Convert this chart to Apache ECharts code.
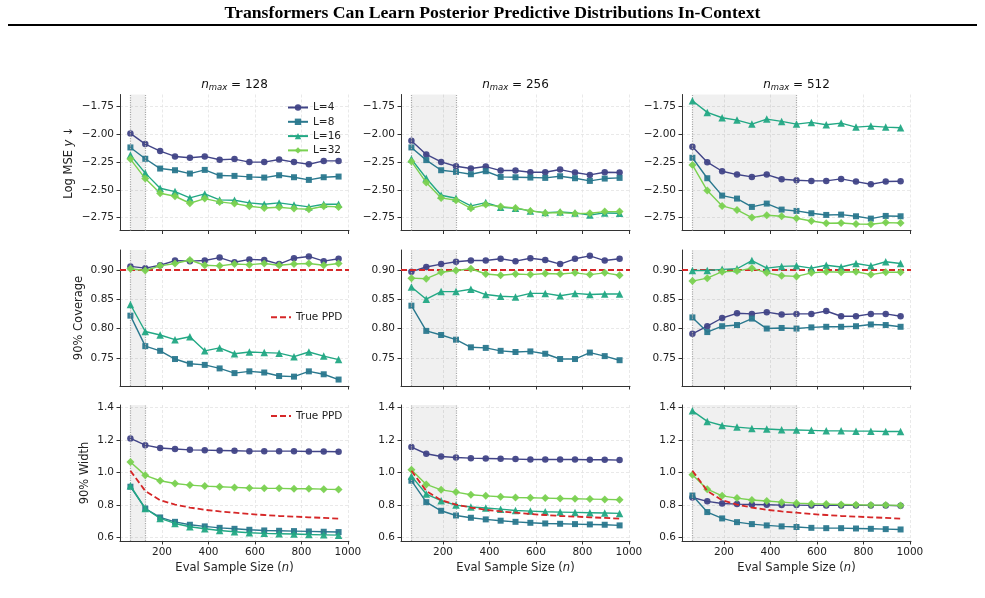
<!DOCTYPE html>
<html>
<head>
<meta charset="utf-8">
<script src="https://cdn.jsdelivr.net/npm/echarts@6/dist/echarts.min.js"></script>
<style>
  html, body { margin: 0; padding: 0; background: #fff; }
  #chart { width: 985px; height: 598px; }
</style>
</head>
<body>
<div id="chart"></div>
<script>
// eval sample sizes (x) and context lengths of each column
const evalSizes = [64, 128, 192, 256, 320, 384, 448, 512, 576, 640, 704, 768, 832, 896, 960];
const nMaxList = [128, 256, 512];
const modelNames = ['L=4', 'L=8', 'L=16', 'L=32'];
const modelColors = ['#414487', '#2a788e', '#22a884', '#7ad151'];

// tick labels
const xTicks = [200, 400, 600, 800, 1000];
const mseTicks = [-2.75, -2.5, -2.25, -2.0, -1.75];
const covTicks = [0.75, 0.80, 0.85, 0.90];
const widTicks = [0.6, 0.8, 1.0, 1.2, 1.4];

// Log MSE y, rows: L=4, L=8, L=16, L=32
const mse128 = [
  [-1.993, -2.089, -2.152, -2.200, -2.212, -2.200, -2.230, -2.224, -2.251, -2.251, -2.227, -2.251, -2.270, -2.240, -2.240],
  [-2.119, -2.221, -2.309, -2.324, -2.354, -2.321, -2.372, -2.375, -2.384, -2.390, -2.369, -2.387, -2.411, -2.387, -2.381],
  [-2.188, -2.350, -2.486, -2.516, -2.573, -2.537, -2.591, -2.594, -2.618, -2.630, -2.618, -2.636, -2.654, -2.630, -2.630],
  [-2.224, -2.399, -2.531, -2.558, -2.621, -2.579, -2.609, -2.624, -2.648, -2.663, -2.657, -2.669, -2.675, -2.648, -2.654]
];
const mse256 = [
  [-2.059, -2.182, -2.249, -2.288, -2.309, -2.291, -2.327, -2.327, -2.342, -2.342, -2.318, -2.345, -2.366, -2.342, -2.345],
  [-2.119, -2.233, -2.324, -2.339, -2.360, -2.333, -2.384, -2.387, -2.390, -2.393, -2.378, -2.396, -2.420, -2.399, -2.393],
  [-2.224, -2.396, -2.549, -2.576, -2.645, -2.615, -2.657, -2.666, -2.690, -2.705, -2.699, -2.708, -2.726, -2.708, -2.711],
  [-2.245, -2.435, -2.573, -2.594, -2.666, -2.633, -2.651, -2.663, -2.690, -2.708, -2.705, -2.714, -2.711, -2.696, -2.696]
];
const mse512 = [
  [-2.113, -2.252, -2.333, -2.363, -2.384, -2.363, -2.405, -2.414, -2.420, -2.420, -2.402, -2.426, -2.450, -2.426, -2.423],
  [-2.212, -2.396, -2.552, -2.579, -2.654, -2.624, -2.678, -2.690, -2.711, -2.726, -2.723, -2.738, -2.759, -2.735, -2.738],
  [-1.699, -1.804, -1.852, -1.873, -1.909, -1.864, -1.885, -1.909, -1.894, -1.915, -1.900, -1.936, -1.927, -1.936, -1.942],
  [-2.276, -2.507, -2.645, -2.681, -2.750, -2.729, -2.738, -2.756, -2.780, -2.801, -2.798, -2.807, -2.810, -2.795, -2.798]
];

// 90% coverage
const cov128 = [
  [0.906, 0.903, 0.908, 0.916, 0.915, 0.916, 0.921, 0.913, 0.918, 0.917, 0.910, 0.920, 0.923, 0.915, 0.919],
  [0.822, 0.770, 0.762, 0.748, 0.740, 0.738, 0.732, 0.724, 0.727, 0.725, 0.719, 0.718, 0.727, 0.722, 0.713],
  [0.841, 0.795, 0.789, 0.781, 0.786, 0.762, 0.767, 0.757, 0.760, 0.759, 0.758, 0.752, 0.760, 0.753, 0.747],
  [0.902, 0.899, 0.907, 0.911, 0.917, 0.908, 0.907, 0.910, 0.909, 0.911, 0.908, 0.910, 0.911, 0.908, 0.911]
];
const cov256 = [
  [0.897, 0.905, 0.910, 0.914, 0.916, 0.916, 0.919, 0.915, 0.920, 0.917, 0.910, 0.919, 0.924, 0.916, 0.919],
  [0.839, 0.796, 0.789, 0.781, 0.768, 0.767, 0.762, 0.760, 0.761, 0.757, 0.748, 0.748, 0.759, 0.753, 0.746],
  [0.871, 0.850, 0.863, 0.863, 0.867, 0.858, 0.855, 0.854, 0.860, 0.860, 0.856, 0.860, 0.858, 0.859, 0.859],
  [0.886, 0.885, 0.896, 0.899, 0.902, 0.893, 0.891, 0.893, 0.892, 0.894, 0.893, 0.895, 0.892, 0.895, 0.891]
];
const cov512 = [
  [0.791, 0.804, 0.818, 0.826, 0.825, 0.828, 0.824, 0.825, 0.825, 0.830, 0.821, 0.821, 0.825, 0.825, 0.821],
  [0.819, 0.794, 0.804, 0.806, 0.817, 0.800, 0.801, 0.800, 0.802, 0.803, 0.803, 0.804, 0.807, 0.806, 0.803],
  [0.899, 0.899, 0.901, 0.902, 0.916, 0.903, 0.906, 0.907, 0.903, 0.908, 0.905, 0.911, 0.907, 0.914, 0.911],
  [0.881, 0.886, 0.897, 0.898, 0.903, 0.895, 0.890, 0.889, 0.895, 0.897, 0.896, 0.897, 0.892, 0.896, 0.896]
];
const trueCoverage = 0.90;

// 90% interval width
const wid128 = [
  [1.209, 1.168, 1.150, 1.144, 1.139, 1.137, 1.135, 1.133, 1.131, 1.131, 1.131, 1.131, 1.129, 1.129, 1.127],
  [0.912, 0.778, 0.723, 0.696, 0.678, 0.668, 0.659, 0.653, 0.647, 0.643, 0.641, 0.639, 0.637, 0.635, 0.633],
  [0.918, 0.778, 0.717, 0.686, 0.666, 0.653, 0.643, 0.635, 0.629, 0.625, 0.623, 0.621, 0.618, 0.616, 0.614],
  [1.064, 0.982, 0.949, 0.932, 0.922, 0.916, 0.912, 0.908, 0.904, 0.902, 0.902, 0.900, 0.900, 0.897, 0.895]
];
const wid256 = [
  [1.156, 1.115, 1.098, 1.092, 1.088, 1.086, 1.084, 1.082, 1.080, 1.080, 1.080, 1.080, 1.078, 1.078, 1.076],
  [0.949, 0.817, 0.764, 0.735, 0.721, 0.711, 0.703, 0.696, 0.690, 0.686, 0.684, 0.682, 0.680, 0.678, 0.674],
  [0.977, 0.867, 0.826, 0.799, 0.787, 0.781, 0.774, 0.766, 0.762, 0.758, 0.756, 0.754, 0.752, 0.750, 0.748],
  [1.016, 0.926, 0.893, 0.879, 0.863, 0.856, 0.850, 0.846, 0.844, 0.842, 0.840, 0.838, 0.836, 0.834, 0.832]
];
const wid512 = [
  [0.846, 0.822, 0.809, 0.805, 0.803, 0.801, 0.799, 0.799, 0.797, 0.797, 0.797, 0.797, 0.797, 0.797, 0.795],
  [0.858, 0.756, 0.717, 0.694, 0.682, 0.674, 0.668, 0.664, 0.659, 0.657, 0.657, 0.655, 0.653, 0.651, 0.649],
  [1.379, 1.314, 1.289, 1.279, 1.271, 1.267, 1.263, 1.261, 1.259, 1.256, 1.256, 1.254, 1.254, 1.252, 1.252],
  [0.986, 0.897, 0.856, 0.842, 0.830, 0.824, 0.817, 0.811, 0.807, 0.805, 0.803, 0.801, 0.799, 0.799, 0.797]
];
const truePPDWidth = [1.010, 0.886, 0.829, 0.802, 0.784, 0.770, 0.760, 0.752, 0.744, 0.738, 0.732, 0.728, 0.724, 0.720, 0.716];

const FONT = 'DejaVu Sans';
const TEXT = '#222';
const PPD_RED = '#d62728';

const rows = [
  { data: [mse128, mse256, mse512], ticks: mseTicks, min: -2.866, max: -1.643, dec: 2,
    name: 'Log MSE {i|y} \u2193', gap: 45 },
  { data: [cov128, cov256, cov512], ticks: covTicks, min: 0.702, max: 0.934, dec: 2,
    name: '90% Coverage', gap: 35 },
  { data: [wid128, wid256, wid512], ticks: widTicks, min: 0.578, max: 1.415, dec: 1,
    name: '90% Width', gap: 29 }
];
const colLeft = [120, 401, 682];
const rowTop = [94.5, 250, 405];
const gridW = 229, gridH = 136;
const symbols = ['circle', 'rect', 'triangle', 'diamond'];
const symbolSizes = [6.5, 6, 7.5, 8];

const grids = [], xAxes = [], yAxes = [], series = [];

rows.forEach((row, r) => {
  nMaxList.forEach((nMax, c) => {
    const g = grids.length;
    grids.push({ left: colLeft[c], top: rowTop[r], width: gridW, height: gridH });

    xAxes.push({
      type: 'value', gridIndex: g, min: 19.2, max: 1004.8,
      axisLine: { show: true, onZero: false, lineStyle: { color: '#333', width: 1 } },
      axisTick: { show: true, length: 3.5, customValues: xTicks, lineStyle: { color: '#333' } },
      axisLabel: { show: r === 2, customValues: xTicks, formatter: v => String(v),
        fontFamily: FONT, fontSize: 10.5, color: TEXT, margin: 6 },
      splitLine: { show: true, lineStyle: { color: '#e3e3e3', type: [3, 2], width: 0.8 } },
      name: r === 2 ? 'Eval Sample Size ({i|n})' : '',
      nameLocation: 'middle', nameGap: 21,
      nameTextStyle: { fontFamily: FONT, fontSize: 11.5, color: TEXT,
        rich: { i: { fontFamily: FONT, fontSize: 11.5, fontStyle: 'italic', color: TEXT } } }
    });

    yAxes.push({
      type: 'value', gridIndex: g, min: row.min, max: row.max,
      axisLine: { show: true, onZero: false, lineStyle: { color: '#333', width: 1 } },
      axisTick: { show: true, length: 3.5, customValues: row.ticks, lineStyle: { color: '#333' } },
      axisLabel: {
        customValues: row.ticks, fontFamily: FONT, fontSize: 10.5, color: TEXT, margin: 6,
        formatter: v => v.toFixed(row.dec).replace('-', '\u2212')
      },
      splitLine: { show: true, lineStyle: { color: '#e3e3e3', type: [3, 2], width: 0.8 } },
      name: c === 0 ? row.name : '',
      nameLocation: 'middle', nameGap: row.gap,
      nameTextStyle: { fontFamily: FONT, fontSize: 11.5, color: TEXT,
        rich: { i: { fontFamily: FONT, fontSize: 11.5, fontStyle: 'italic', color: TEXT } } }
    });

    row.data[c].forEach((vals, k) => {
      const s = {
        type: 'line', name: modelNames[k], xAxisIndex: g, yAxisIndex: g,
        data: evalSizes.map((x, i) => [x, vals[i]]),
        symbol: symbols[k], symbolSize: symbolSizes[k],
        color: modelColors[k],
        lineStyle: { width: 1.4, color: modelColors[k] },
        itemStyle: { color: modelColors[k], opacity: 0.95 },
        z: 3 + k
      };
      if (k === 0) {
        // shaded training range 64 .. n_max
        s.markArea = {
          silent: true, itemStyle: { color: 'rgba(0,0,0,0.06)' },
          data: [[{ xAxis: evalSizes[0] }, { xAxis: nMax }]]
        };
        s.markLine = {
          silent: true, symbol: 'none', label: { show: false },
          lineStyle: { color: '#aaa', type: 'dotted', width: 1.2 },
          data: [{ xAxis: evalSizes[0] }, { xAxis: nMax }]
        };
      }
      series.push(s);
    });

    if (r === 1) {
      series.push({
        type: 'line', name: 'True PPD', xAxisIndex: g, yAxisIndex: g, data: [],
        symbol: 'none', color: PPD_RED,
        lineStyle: { color: PPD_RED, type: [6, 3], width: 1.8 },
        markLine: {
          silent: true, symbol: 'none', label: { show: false },
          lineStyle: { color: PPD_RED, type: [6, 3], width: 1.8 },
          data: [{ yAxis: trueCoverage }]
        },
        z: 10
      });
    }
    if (r === 2) {
      series.push({
        type: 'line', name: 'True PPD', xAxisIndex: g, yAxisIndex: g,
        data: evalSizes.map((x, i) => [x, truePPDWidth[i]]),
        symbol: 'none', color: PPD_RED,
        lineStyle: { color: PPD_RED, type: [6, 3], width: 1.8 },
        z: 10
      });
    }
  });
});

const legendBase = {
  orient: 'vertical', itemWidth: 20, itemHeight: 8, itemGap: 2.3, padding: 0,
  selectedMode: false, inactiveColor: TEXT,
  textStyle: { fontFamily: FONT, fontSize: 10.5, color: TEXT, lineHeight: 12 }
};
// dashed line only, no marker in the legend icon
const ppdLegendItem = { name: 'True PPD', itemStyle: { opacity: 0 } };

// column titles n_max = ...
const colTitles = nMaxList.map((n, c) => ({
  type: 'text', x: colLeft[c] + gridW / 2, y: 85,
  style: {
    text: '{i|n}{s|max}{t| = ' + n + '}',
    align: 'center', verticalAlign: 'middle',
    rich: {
      i: { fontFamily: FONT, fontSize: 12, fontStyle: 'italic', fill: '#111' },
      s: { fontFamily: FONT, fontSize: 8.5, fontStyle: 'italic', fill: '#111', padding: [6, 0, 0, 0] },
      t: { fontFamily: FONT, fontSize: 12, fill: '#111' }
    }
  }
}));

const chart = echarts.init(document.getElementById('chart'));
chart.setOption({
  animation: false,
  backgroundColor: '#fff',
  grid: grids,
  xAxis: xAxes,
  yAxis: yAxes,
  legend: [
    Object.assign({}, legendBase, { data: modelNames, left: 287, top: 101.5 }),
    Object.assign({}, legendBase, { data: [ppdLegendItem], left: 270, top: 311.3 }),
    Object.assign({}, legendBase, { data: [ppdLegendItem], left: 270, top: 410 })
  ],
  series: series,
  graphic: [
    {
      type: 'text', x: 492.5, y: 13,
      style: {
        text: 'Transformers Can Learn Posterior Predictive Distributions In-Context',
        font: 'bold 17.7px "Liberation Serif"', fill: '#000',
        align: 'center', verticalAlign: 'middle'
      }
    },
    {
      type: 'line', shape: { x1: 8, y1: 25, x2: 977, y2: 25 },
      style: { stroke: '#000', lineWidth: 2 }
    }
  ].concat(colTitles)
});
</script>
</body>
</html>
